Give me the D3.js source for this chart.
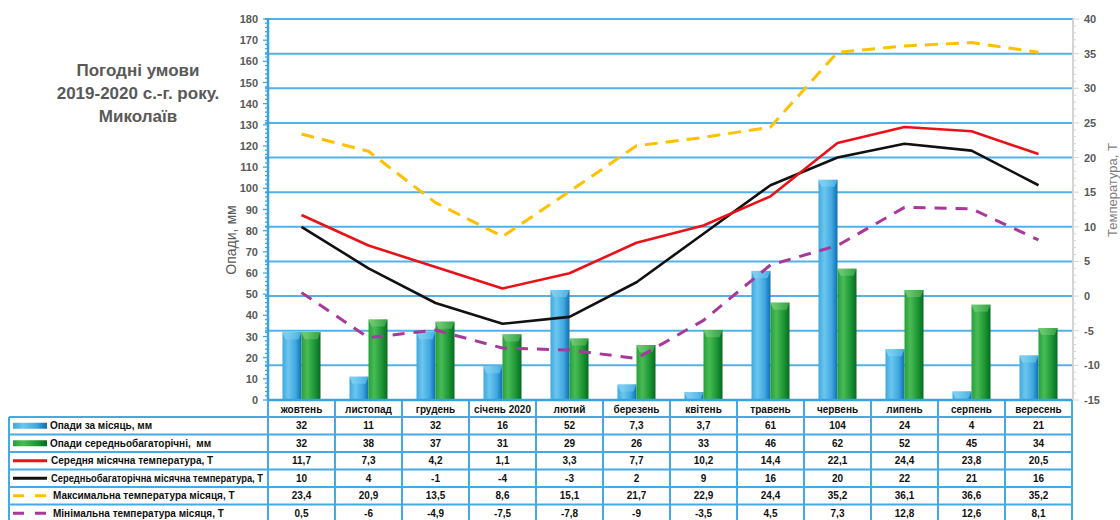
<!DOCTYPE html>
<html>
<head>
<meta charset="utf-8">
<script src="https://cdn.jsdelivr.net/npm/d3@7"></script>
<style>
  body { margin: 0; background: #fff; }
  svg { display: block; font-family: "Liberation Sans", Arial, sans-serif; }
</style>
</head>
<body>
<svg id="chart" width="1120" height="520"></svg>
<script>
// Months of the 2019-2020 agricultural year
const months = ["жовтень", "листопад", "грудень", "січень 2020", "лютий", "березень",
                "квітень", "травень", "червень", "липень", "серпень", "вересень"];

// Precipitation, mm
const precipMonth = [32, 11, 32, 16, 52, 7.3, 3.7, 61, 104, 24, 4, 21];
const precipNorm  = [32, 38, 37, 31, 29, 26, 33, 46, 62, 52, 45, 34];

// Temperature, °C
const tempMean = [11.7, 7.3, 4.2, 1.1, 3.3, 7.7, 10.2, 14.4, 22.1, 24.4, 23.8, 20.5];
const tempNorm = [10, 4, -1, -4, -3, 2, 9, 16, 20, 22, 21, 16];
const tempMax  = [23.4, 20.9, 13.5, 8.6, 15.1, 21.7, 22.9, 24.4, 35.2, 36.1, 36.6, 35.2];
const tempMin  = [0.5, -6, -4.9, -7.5, -7.8, -9, -3.5, 4.5, 7.3, 12.8, 12.6, 8.1];

// Axis ticks
const precipTicks = d3.range(0, 181, 10);
const tempTicks = d3.range(-15, 41, 5);

const titleLines = ["Погодні умови", "2019-2020 с.-г. року.", "Миколаїв"];

const rowLabels = [
  "Опади за місяць, мм",
  "Опади середньобагаторічні,  мм",
  "Середня місячна температура, Т",
  "Середньобагаторічна місячна температура, Т",
  "Максимальна температура місяця, Т",
  "Мінімальна температура місяця, Т"
];

const BLUE_GRID = "#55b1e5";
const C = { red: "#ea1118", black: "#111", yellow: "#ffc000", purple: "#a8389c" };

const svg = d3.select("#chart");
const plotL = 268, plotR = 1072, plotT = 19, plotB = 400;

const x = d3.scaleBand().domain(months).range([plotL, plotR]);
const cx = i => x(months[i]) + x.bandwidth() / 2;
const yP = d3.scaleLinear().domain([0, 180]).range([plotB, plotT]);
const yT = d3.scaleLinear().domain([-15, 40]).range([plotB, plotT]);

// gradients for cylinder-like bars
const defs = svg.append("defs");
function grad(id, stops) {
  const g = defs.append("linearGradient").attr("id", id).attr("x1", "0").attr("x2", "1").attr("y1", "0").attr("y2", "0");
  stops.forEach(([o, c]) => g.append("stop").attr("offset", o).attr("stop-color", c));
}
grad("gBlue", [[0, "#3ea8de"], [0.3, "#6cc6ef"], [0.7, "#3fa7df"], [0.9, "#1c80c2"], [1, "#176fae"]]);
grad("gGreen", [[0, "#27a03a"], [0.3, "#49bb55"], [0.7, "#1c9634"], [0.9, "#0d7a28"], [1, "#0a6621"]]);
grad("gBlueCap", [[0, "#8fd6f5"], [1, "#4fb5e6"]]);
grad("gGreenCap", [[0, "#7fd07f"], [1, "#3aaa48"]]);

// horizontal gridlines at temperature ticks
svg.append("g").selectAll("line").data(tempTicks.filter(t => t > -15)).join("line")
  .attr("x1", plotL - 3).attr("x2", plotR + 1)
  .attr("y1", d => yT(d)).attr("y2", d => yT(d))
  .attr("stroke", BLUE_GRID).attr("stroke-width", 2);

// bars
function drawBars(values, side, fill, cap) {
  const g = svg.append("g");
  values.forEach((v, i) => {
    const x0 = side < 0 ? cx(i) - 19 : cx(i);
    const w = 19;
    const yTop = yP(v);
    g.append("rect").attr("x", x0).attr("y", yTop).attr("width", w).attr("height", plotB - yTop).attr("fill", fill);
    const h = Math.min(7, plotB - yTop);
    g.append("polygon")
      .attr("points", [[x0, yTop], [x0 + w, yTop], [x0 + w - 3, yTop + h], [x0 + 3, yTop + h]].map(p => p.join(",")).join(" "))
      .attr("fill", cap).attr("opacity", 0.85);
  });
}
drawBars(precipMonth, -1, "url(#gBlue)", "url(#gBlueCap)");
drawBars(precipNorm, 1, "url(#gGreen)", "url(#gGreenCap)");

// temperature lines
const line = d3.line().x((d, i) => cx(i)).y(d => yT(d));
function drawLine(values, color, dash) {
  svg.append("path").datum(values).attr("d", line)
    .attr("fill", "none").attr("stroke", color).attr("stroke-width", dash ? 3 : 2.6)
    .attr("stroke-dasharray", dash || null).attr("stroke-linejoin", "round");
}
drawLine(tempMax, C.yellow, "13,8");
drawLine(tempMin, C.purple, "12,9");
drawLine(tempNorm, C.black);
drawLine(tempMean, C.red);

// left axis (precipitation)
const gL = svg.append("g");
gL.selectAll("line").data(d3.range(0, 181, 2)).join("line")
  .attr("x1", d => plotL - (d % 10 === 0 ? 5 : 3)).attr("x2", plotL)
  .attr("y1", d => yP(d)).attr("y2", d => yP(d))
  .attr("stroke", "#3aa3df").attr("stroke-width", 1.2);
gL.append("line").attr("x1", plotL).attr("x2", plotL).attr("y1", plotT - 1).attr("y2", plotB + 1)
  .attr("stroke", "#3aa3df").attr("stroke-width", 2.5);
gL.selectAll("text").data(precipTicks).join("text")
  .attr("x", plotL - 10).attr("y", d => yP(d) + 4)
  .attr("text-anchor", "end").attr("fill", "#595959")
  .attr("font-size", 11).attr("font-weight", "bold").text(d => d);

// right axis (temperature)
const gR = svg.append("g");
gR.append("line").attr("x1", plotR + 1).attr("x2", plotR + 1).attr("y1", plotT).attr("y2", plotB)
  .attr("stroke", "#d4d4d4").attr("stroke-width", 2);
gR.selectAll("line.tick").data(d3.range(-15, 41, 1)).join("line")
  .attr("class", "tick")
  .attr("x1", plotR + 1).attr("x2", d => plotR + 1 + (d % 5 === 0 ? 6 : 3))
  .attr("y1", d => yT(d)).attr("y2", d => yT(d))
  .attr("stroke", "#d4d4d4").attr("stroke-width", 1);
gR.selectAll("text").data(tempTicks).join("text")
  .attr("x", plotR + 12).attr("y", d => yT(d) + 4)
  .attr("fill", "#595959").attr("font-size", 11).attr("font-weight", "bold")
  .text(d => d);

// axis titles
svg.append("text").attr("transform", "translate(236,240) rotate(-90)")
  .attr("text-anchor", "middle").attr("fill", "#595959").attr("font-size", 14)
  .text("Опади, мм");
svg.append("text").attr("transform", "translate(1117,190) rotate(-90)")
  .attr("text-anchor", "middle").attr("fill", "#7f7f7f").attr("font-size", 13)
  .text("Температура, Т");

// chart title
svg.append("g").selectAll("text").data(titleLines).join("text")
  .attr("x", 138).attr("y", (d, i) => 76 + i * 23)
  .attr("text-anchor", "middle").attr("fill", "#595959")
  .attr("font-size", 17).attr("font-weight", "bold").text(d => d);

// data table
const rowH = 17.5, tableTop = 417, tableLeft = 9;
const fmt = v => String(v).replace(".", ",");
const tableSeries = [precipMonth, precipNorm, tempMean, tempNorm, tempMax, tempMin];
const tbl = svg.append("g");

// header row with month names
tbl.selectAll("text.m").data(months).join("text")
  .attr("class", "m")
  .attr("x", (d, i) => cx(i)).attr("y", 413)
  .attr("text-anchor", "middle").attr("font-size", 10).attr("font-weight", "bold")
  .attr("fill", "#111").text(d => d);

tableSeries.forEach((vals, r) => {
  const yc = tableTop + r * rowH + rowH / 2;
  tbl.append("g").selectAll("text").data(vals).join("text")
    .attr("x", (d, i) => cx(i)).attr("y", yc + 3.5)
    .attr("text-anchor", "middle").attr("font-size", 10).attr("font-weight", "bold")
    .attr("fill", "#111").text(fmt);
  // legend key
  if (r < 2) {
    tbl.append("rect").attr("x", 13).attr("y", yc - 3).attr("width", 34).attr("height", 6)
      .attr("fill", r === 0 ? "url(#gBlue)" : "url(#gGreen)");
  } else {
    const col = [C.red, C.black, C.yellow, C.purple][r - 2];
    tbl.append("line").attr("x1", 13).attr("x2", 47).attr("y1", yc).attr("y2", yc)
      .attr("stroke", col).attr("stroke-width", 3)
      .attr("stroke-dasharray", r >= 4 ? "11,11" : null);
  }
  const tx = r < 2 ? 50 : (r < 4 ? 51 : 53);
  const t = tbl.append("text").attr("x", tx).attr("y", yc + 3.5)
    .attr("font-size", 10).attr("font-weight", "bold").attr("fill", "#111")
    .attr("xml:space", "preserve").text(rowLabels[r]);
  const avail = 263 - tx;
  if (t.node().getComputedTextLength() > avail) {
    t.attr("textLength", avail).attr("lengthAdjust", "spacingAndGlyphs");
  }
});

// table grid
const gridColor = "#45aae3";
const hLines = d3.range(0, 7).map(k => tableTop + k * rowH);
tbl.append("g").selectAll("line").data(hLines).join("line")
  .attr("x1", tableLeft).attr("x2", plotR).attr("y1", d => d).attr("y2", d => d)
  .attr("stroke", gridColor).attr("stroke-width", 2);
tbl.append("line").attr("x1", tableLeft).attr("x2", tableLeft).attr("y1", tableTop).attr("y2", 520)
  .attr("stroke", gridColor).attr("stroke-width", 2);
tbl.append("g").selectAll("line").data(d3.range(0, 13)).join("line")
  .attr("x1", k => plotL + k * x.bandwidth()).attr("x2", k => plotL + k * x.bandwidth())
  .attr("y1", plotB).attr("y2", 520)
  .attr("stroke", gridColor).attr("stroke-width", 2);
// category axis line
tbl.append("line").attr("x1", plotL).attr("x2", plotR).attr("y1", plotB).attr("y2", plotB)
  .attr("stroke", "#3aa3df").attr("stroke-width", 2.5);
</script>
</body>
</html>
